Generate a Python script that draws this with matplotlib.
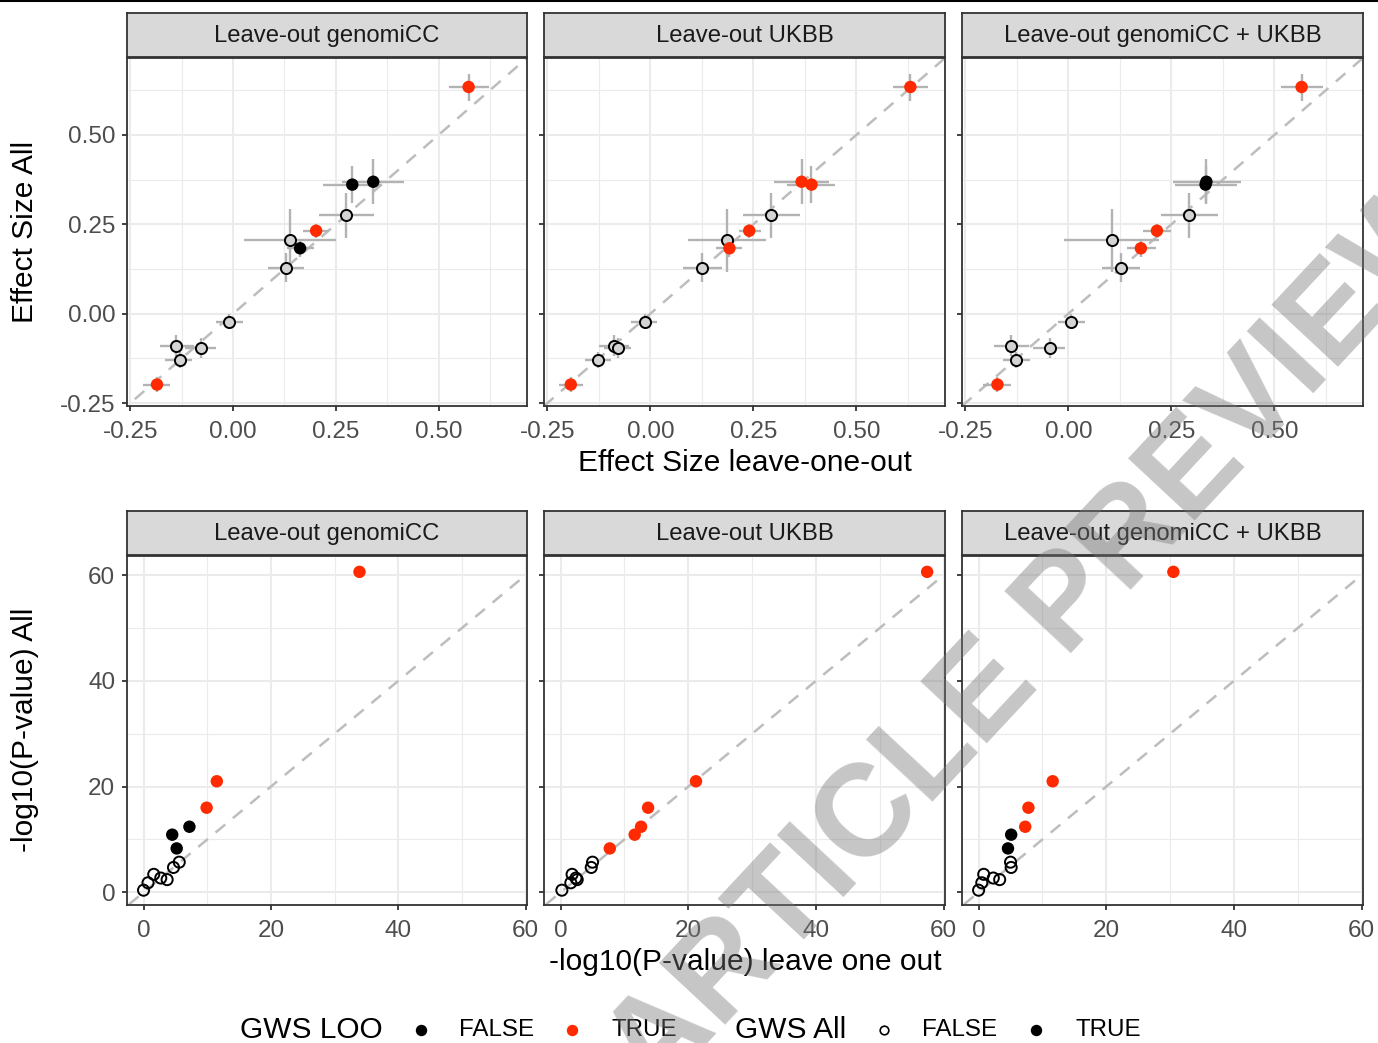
import matplotlib
matplotlib.use("Agg")
import matplotlib.pyplot as plt
from matplotlib.lines import Line2D
import numpy as np

plt.rcParams['font.family'] = ['Liberation Sans', 'DejaVu Sans']

# ---- data -------------------------------------------------------------
panels = ["Leave-out genomiCC", "Leave-out UKBB", "Leave-out genomiCC + UKBB"]

# full meta-analysis (shared across panels), 13 variants
eff_all = [0.634, 0.369, 0.361, 0.183, 0.232, -0.198, 0.277, 0.206, 0.129, -0.022, -0.089, -0.096, -0.129]
eff_all_lo = [0.596, 0.306, 0.310, 0.158, 0.212, -0.218, 0.213, 0.118, 0.090, -0.043, -0.119, -0.123, -0.152]
eff_all_hi = [0.671, 0.432, 0.413, 0.208, 0.252, -0.178, 0.338, 0.294, 0.170, -0.001, -0.059, -0.069, -0.106]
logp_all = [60.6, 10.9, 8.3, 12.4, 21.0, 16.0, 5.7, 3.4, 4.7, 2.7, 2.4, 1.8, 0.4]
gws_all = [True, True, True, True, True, True, False, False, False, False, False, False, False]

# leave-one-out estimates, one list per panel
eff_loo = [
    [0.573, 0.341, 0.290, 0.163, 0.202, -0.185, 0.275, 0.138, 0.129, -0.009, -0.138, -0.078, -0.130],
    [0.631, 0.367, 0.391, 0.192, 0.240, -0.193, 0.293, 0.186, 0.126, -0.014, -0.088, -0.078, -0.126],
    [0.566, 0.335, 0.333, 0.176, 0.215, -0.172, 0.294, 0.105, 0.128, 0.007, -0.138, -0.045, -0.127],
]
eff_loo_lo = [
    [0.525, 0.265, 0.219, 0.130, 0.171, -0.218, 0.209, 0.027, 0.085, -0.041, -0.177, -0.117, -0.165],
    [0.590, 0.299, 0.332, 0.159, 0.214, -0.221, 0.224, 0.092, 0.080, -0.047, -0.125, -0.112, -0.159],
    [0.516, 0.255, 0.258, 0.142, 0.182, -0.206, 0.226, -0.010, 0.082, -0.024, -0.180, -0.085, -0.158],
]
eff_loo_hi = [
    [0.622, 0.417, 0.361, 0.197, 0.234, -0.153, 0.342, 0.250, 0.172, 0.024, -0.095, -0.041, -0.100],
    [0.673, 0.433, 0.448, 0.222, 0.269, -0.164, 0.362, 0.281, 0.174, 0.015, -0.052, -0.046, -0.095],
    [0.617, 0.418, 0.410, 0.212, 0.249, -0.139, 0.362, 0.220, 0.175, 0.040, -0.095, -0.008, -0.093],
]
logp_loo = [
    [33.9, 4.5, 5.2, 7.2, 11.5, 9.9, 5.6, 1.6, 4.7, 2.7, 3.7, 0.7, 0.0],
    [57.4, 11.6, 7.7, 12.6, 21.2, 13.7, 5.0, 1.8, 4.8, 2.4, 2.6, 1.6, 0.2],
    [30.5, 5.1, 4.6, 7.3, 11.6, 7.8, 5.0, 0.8, 5.1, 2.3, 3.3, 0.5, 0.0],
]
gws_loo = [
    [True, False, False, False, True, True, False, False, False, False, False, False, False],
    [True, True, True, True, True, True, False, False, False, False, False, False, False],
    [True, False, False, True, True, True, False, False, False, False, False, False, False],
]

# ---- style ------------------------------------------------------------
W, H = 1378, 1043
RED = "#ff2a00"
GRID = "#ebebeb"
BORDER = "#333333"
TICKTXT = "#4d4d4d"
ERR = "#b3b3b3"
DIAG = "#bdbdbd"

fig = plt.figure(figsize=(W / 100, H / 100), dpi=100)


def fx(px):
    return px / W


def fy(py):
    return 1 - py / H


col_x = [(127, 527), (544, 945), (962, 1363)]
rows = [dict(strip=(13, 57), ax=(58, 406)), dict(strip=(511, 555), ax=(556, 905))]

lims_eff = (-0.258, 0.715)
lims_px = (-2.6, 60.2)
lims_py = (-2.4, 63.6)


def style_axes(ax, major, minor):
    ax.set_facecolor("white")
    for s in ax.spines.values():
        s.set_color(BORDER)
        s.set_linewidth(1.3)
    ax.set_xticks(major)
    ax.set_yticks(major)
    ax.set_xticks(minor, minor=True)
    ax.set_yticks(minor, minor=True)
    ax.grid(True, which="major", color=GRID, lw=1.5, zorder=0)
    ax.grid(True, which="minor", color=GRID, lw=0.8, zorder=0)
    ax.set_axisbelow(True)
    ax.tick_params(which="major", length=3.5, width=1.3, color=BORDER,
                   labelsize=17.5, labelcolor=TICKTXT)
    ax.tick_params(axis="x", which="major", pad=7)
    ax.tick_params(axis="y", which="major", pad=5)
    ax.tick_params(which="minor", length=0)


def add_strip(r, c, label):
    x0, x1 = col_x[c]
    y0, y1 = rows[r]["strip"]
    sax = fig.add_axes([fx(x0), fy(y1), fx(x1 - x0), (y1 - y0) / H])
    sax.set_facecolor("#d9d9d9")
    sax.set_xticks([])
    sax.set_yticks([])
    for s in sax.spines.values():
        s.set_color(BORDER)
        s.set_linewidth(1.3)
    sax.text(0.5, 0.48, label, ha="center", va="center", fontsize=17.2,
             color="#1a1a1a", transform=sax.transAxes)


eff_ticks = [-0.25, 0.0, 0.25, 0.50]
eff_minor = [-0.125, 0.125, 0.375, 0.625]
p_ticks = [0, 20, 40, 60]
p_minor = [10, 30, 50]

for c in range(3):
    # ---- effect size row ----
    x0, x1 = col_x[c]
    y0, y1 = rows[0]["ax"]
    ax = fig.add_axes([fx(x0), fy(y1), fx(x1 - x0), (y1 - y0) / H])
    style_axes(ax, eff_ticks, eff_minor)
    ax.set_xlim(lims_eff)
    ax.set_ylim(lims_eff)
    ax.set_xticklabels(["-0.25", "0.00", "0.25", "0.50"])
    if c == 0:
        ax.set_yticklabels(["-0.25", "0.00", "0.25", "0.50"])
    else:
        ax.tick_params(axis="y", labelleft=False)
    ax.plot([-1, 1], [-1, 1], color=DIAG, lw=1.8, dashes=(5, 4), zorder=1)

    ex = np.array(eff_loo[c])
    ey = np.array(eff_all)
    ax.hlines(ey, eff_loo_lo[c], eff_loo_hi[c], color=ERR, lw=1.7, zorder=2)
    ax.vlines(ex, eff_all_lo, eff_all_hi, color=ERR, lw=1.7, zorder=2)
    for i in range(len(ex)):
        colr = RED if gws_loo[c][i] else "black"
        if gws_all[i]:
            ax.scatter(ex[i], ey[i], s=80, color=colr, edgecolors="none", zorder=4)
        else:
            ax.scatter(ex[i], ey[i], s=64, facecolors="#d4d4d4", edgecolors=colr,
                       linewidths=1.4, zorder=3)
    add_strip(0, c, panels[c])

    # ---- p-value row ----
    y0, y1 = rows[1]["ax"]
    ax2 = fig.add_axes([fx(x0), fy(y1), fx(x1 - x0), (y1 - y0) / H])
    style_axes(ax2, p_ticks, p_minor)
    ax2.set_xlim(lims_px)
    ax2.set_ylim(lims_py)
    if c != 0:
        ax2.tick_params(axis="y", labelleft=False)
    ax2.plot([-5, 70], [-5, 70], color=DIAG, lw=1.8, dashes=(5, 4), zorder=1)
    px = np.array(logp_loo[c])
    py = np.array(logp_all)
    for i in range(len(px)):
        colr = RED if gws_loo[c][i] else "black"
        if gws_all[i]:
            ax2.scatter(px[i], py[i], s=80, color=colr, edgecolors="none", zorder=4)
        else:
            ax2.scatter(px[i], py[i], s=64, facecolors="none", edgecolors=colr,
                        linewidths=1.4, zorder=3)
    add_strip(1, c, panels[c])

# ---- axis titles ----
fig.text(fx(745), fy(463), "Effect Size leave-one-out", ha="center", va="center", fontsize=21.5)
fig.text(fx(745), fy(962), "-log10(P-value) leave one out", ha="center", va="center", fontsize=21.5)
fig.text(fx(25), fy(232), "Effect Size All", ha="center", va="center", rotation=90, fontsize=21.5)
fig.text(fx(25), fy(730), "-log10(P-value) All", ha="center", va="center", rotation=90, fontsize=21.5)

# ---- legend ----
ly = fy(1030)
fig.text(fx(240), ly, "GWS LOO", ha="left", va="center", fontsize=21.5)
fig.text(fx(459), ly, "FALSE", ha="left", va="center", fontsize=17.4)
fig.text(fx(611), ly, "TRUE", ha="left", va="center", fontsize=17.4)
fig.text(fx(735), ly, "GWS All", ha="left", va="center", fontsize=21.5)
fig.text(fx(922), ly, "FALSE", ha="left", va="center", fontsize=17.4)
fig.text(fx(1075), ly, "TRUE", ha="left", va="center", fontsize=17.4)
for xp, fc, ec in [(421, "black", "black"), (572, RED, RED), (884, "none", "black"), (1036, "black", "black")]:
    fig.add_artist(Line2D([fx(xp)], [ly], marker="o", markersize=7 if fc != "none" else 6.2,
                          markerfacecolor=fc, markeredgecolor=ec, markeredgewidth=1.2,
                          linestyle="none", transform=fig.transFigure))

# top rule
fig.add_artist(Line2D([0, 1], [fy(1), fy(1)], color="black", lw=1.5, transform=fig.transFigure))

# watermark
fig.text(fx(1040), fy(636), "ARTICLE PREVIEW", ha="center", va="center", rotation=47,
         fontsize=94, fontweight="bold", color="#777777", alpha=0.42, zorder=10)

fig.savefig("out.png", dpi=100)
